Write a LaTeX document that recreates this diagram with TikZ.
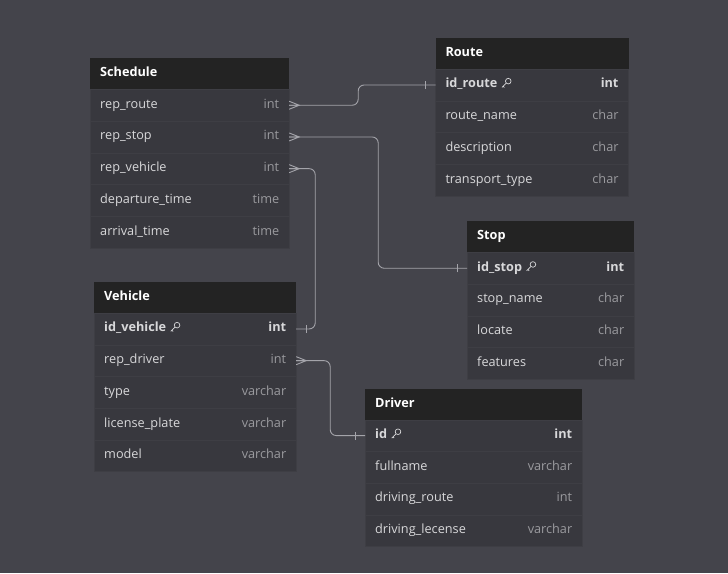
\documentclass[tikz,border=0pt]{standalone}
\usepackage{fontspec}
\setmainfont{Open Sans}
\usetikzlibrary{positioning}
\definecolor{bgc}{HTML}{44444B}
\definecolor{headc}{HTML}{232323}
\definecolor{rowc}{HTML}{38383E}
\definecolor{rowline}{HTML}{3E3E44}
\definecolor{namec}{HTML}{D8D8DA}
\definecolor{typec}{HTML}{9A9A9E}
\definecolor{linkc}{HTML}{A4A4AA}
\newcommand\keyicon{\tikz[x=1pt,y=1pt,baseline=0pt,line width=.7pt]{%
  \draw[namec] (7.3,6.8) circle (2.8);
  \draw[namec] (5.3,4.8) -- (1,0.5) (2.2,1.7) -- (3.4,0.5);}}
\begin{document}
\begin{tikzpicture}[x=1pt,y=-1pt,font=\fontsize{12.7}{15}\selectfont,
  head/.style={anchor=north west,fill=headc,text=white,font=\fontsize{12.7}{15}\selectfont\bfseries,
    minimum height=31pt,inner xsep=10pt,inner ysep=0pt,align=left,text height=9pt,text depth=3pt},
  row/.style={fill=rowc,draw=rowline,line width=.4pt,text=namec,minimum height=31.7pt,
    inner xsep=10pt,inner ysep=0pt,outer sep=0pt,align=left,text height=9pt,text depth=3pt},
  link/.style={draw=linkc,line width=.9pt,rounded corners=6pt},
  many/.pic={\draw[linkc,line width=.9pt] (0,-4) -- (10,0) -- (0,4) (0,0) -- (10,0);},
  one/.pic={\draw[linkc,line width=.9pt] (10,-4) -- (10,4);}]
\useasboundingbox (0,0) rectangle (728,573);
\fill[bgc] (0,0) rectangle (728,573);
% Schedule
\node[head,text width=179pt,alias=sched-0] (sched) at (90,58) {Schedule};
\foreach \n/\t [count=\i] in {rep\_route/int,rep\_stop/int,rep\_vehicle/int,departure\_time/time,arrival\_time/time}{
  \pgfmathtruncatemacro\j{\i-1}
  \node[row,text width=179pt,below=0pt of sched-\j] (sched-\i) {\n\hfill\textcolor{typec}{\t}};
}
% Route
\node[head,text width=173pt,alias=route-0] (route) at (435.3,37.7) {Route};
\foreach \n/\t [count=\i] in {{\textbf{id\_route}~\keyicon}/{\bfseries\color{namec}int},route\_name/char,description/char,transport\_type/char}{
  \pgfmathtruncatemacro\j{\i-1}
  \node[row,text width=173pt,below=0pt of route-\j] (route-\i) {\n\hfill\textcolor{typec}{\t}};
}
% Stop
\node[head,text width=147pt,alias=stop-0] (stop) at (467,221) {Stop};
\foreach \n/\t [count=\i] in {{\textbf{id\_stop}~\keyicon}/{\bfseries\color{namec}int},stop\_name/char,locate/char,features/char}{
  \pgfmathtruncatemacro\j{\i-1}
  \node[row,text width=147pt,below=0pt of stop-\j] (stop-\i) {\n\hfill\textcolor{typec}{\t}};
}
% Vehicle
\node[head,text width=182pt,alias=veh-0] (veh) at (94,281.7) {Vehicle};
\foreach \n/\t [count=\i] in {{\textbf{id\_vehicle}~\keyicon}/{\bfseries\color{namec}int},rep\_driver/int,type/varchar,license\_plate/varchar,model/varchar}{
  \pgfmathtruncatemacro\j{\i-1}
  \node[row,text width=182pt,below=0pt of veh-\j] (veh-\i) {\n\hfill\textcolor{typec}{\t}};
}
% Driver
\node[head,text width=197pt,alias=drv-0] (drv) at (365,388.3) {Driver};
\foreach \n/\t [count=\i] in {{\textbf{id}~\keyicon}/{\bfseries\color{namec}int},fullname/varchar,driving\_route/int,driving\_lecense/varchar}{
  \pgfmathtruncatemacro\j{\i-1}
  \node[row,text width=197pt,below=0pt of drv-\j] (drv-\i) {\n\hfill\textcolor{typec}{\t}};
}
% links
\draw[link] (sched-1.east) -- ([xshift=69pt]sched-1.east) |- (route-1.west);
\draw[link] (sched-2.east) -- ([xshift=89pt]sched-2.east) |- (stop-1.west);
\draw[link] (sched-3.east) -- ([xshift=26pt]sched-3.east) |- (veh-1.east);
\draw[link] (veh-2.east) -- ([xshift=34pt]veh-2.east) |- (drv-1.west);
\pic at (sched-1.east) {many};
\pic at (sched-2.east) {many};
\pic at (sched-3.east) {many};
\pic at (veh-2.east) {many};
\pic[rotate=180] at (route-1.west) {one};
\pic[rotate=180] at (stop-1.west) {one};
\pic at (veh-1.east) {one};
\pic[rotate=180] at (drv-1.west) {one};
\end{tikzpicture}
\end{document}
